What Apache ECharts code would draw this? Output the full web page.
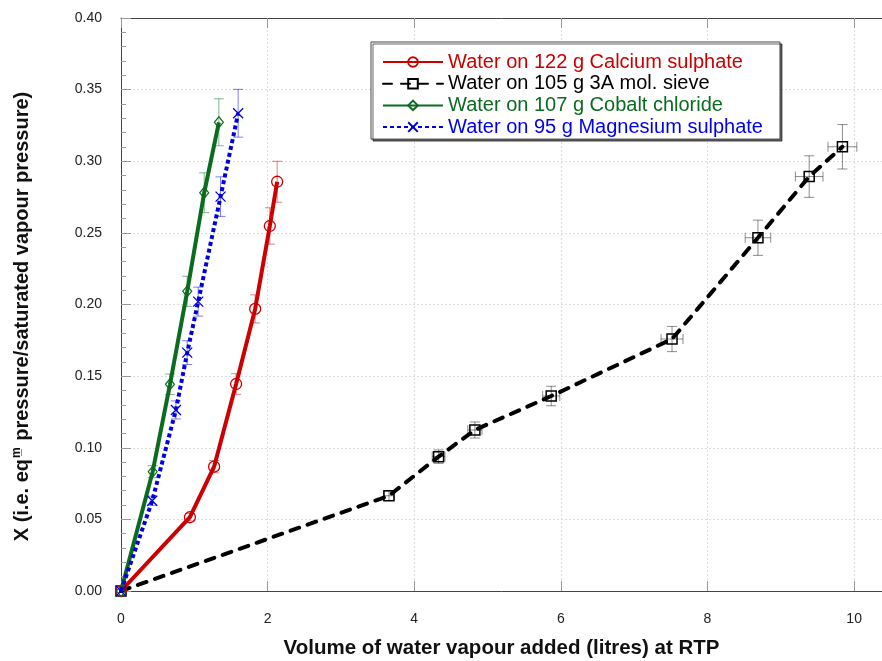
<!DOCTYPE html>
<html>
<head>
<meta charset="utf-8">
<script src="https://cdn.jsdelivr.net/npm/echarts@6/dist/echarts.min.js"></script>
<style>
  html, body { margin: 0; padding: 0; background: #fff; }
  #chart { width: 882px; height: 661px; }
</style>
</head>
<body>
<div id="chart"></div>
<script>
// values
const SERIES_NAMES = [
  'Water on 122 g Calcium sulphate',
  'Water on 105 g 3A mol. sieve',
  'Water on 107 g Cobalt chloride',
  'Water on 95 g Magnesium sulphate',
]

const casoX    = [0, 0.94, 1.27, 1.57, 1.83, 2.03, 2.13]
const casoY    = [0, 0.0515, 0.0868, 0.1445, 0.1969, 0.2548, 0.2857]
const casoErrY = [0, 0.0026, 0.0043, 0.0072, 0.0098, 0.0127, 0.0143]

const sieveX    = [0, 3.655, 4.332, 4.827, 5.868, 7.516, 8.688, 9.387, 9.84]
const sieveY    = [0, 0.0665, 0.0938, 0.1124, 0.1361, 0.1759, 0.2466, 0.2893, 0.3101]
const sieveErrX = [0, 0.073, 0.087, 0.097, 0.117, 0.150, 0.174, 0.188, 0.197]
const sieveErrY = [0, 0.0033, 0.0047, 0.0056, 0.0068, 0.0088, 0.0123, 0.0145, 0.0155]

const cocl2X    = [0, 0.432, 0.668, 0.903, 1.135, 1.335]
const cocl2Y    = [0, 0.0833, 0.1443, 0.2092, 0.278, 0.3272]
const cocl2ErrY = [0, 0.0042, 0.0072, 0.0105, 0.0139, 0.0164]

const mgso4X    = [0, 0.426, 0.749, 0.903, 1.053, 1.358, 1.598]
const mgso4Y    = [0, 0.063, 0.1264, 0.1664, 0.202, 0.2753, 0.3335]
const mgso4ErrY = [0, 0.0032, 0.0063, 0.0083, 0.0101, 0.0138, 0.0167]

const X_TICKS = [0, 2, 4, 6, 8, 10]
const Y_TICKS = [0, 0.05, 0.10, 0.15, 0.20, 0.25, 0.30, 0.35, 0.40]

const RED = '#cc0000', BLACK = '#000000', GREEN = '#0b6b1f', BLUE = '#0000dd'
const FONT = '"Liberation Sans", Arial, Helvetica, sans-serif'

const zip = (xs, ys) => xs.map((x, i) => [x, ys[i]])

function errorBars(id, xs, ys, ex, ey, color) {
  return {
    type: 'custom', name: id, silent: true, z: 1,
    data: xs.map((x, i) => [x, ys[i], ex ? ex[i] : 0, ey[i]]),
    encode: { x: 0, y: 1 },
    renderItem: (params, api) => {
      const x = api.value(0), y = api.value(1), dx = api.value(2), dy = api.value(3)
      const c = api.coord([x, y])
      const cap = 5
      const style = { stroke: color, lineWidth: 1 }
      const seg = (x1, y1, x2, y2) => ({ type: 'line', shape: { x1, y1, x2, y2 }, style })
      const kids = []
      if (dy > 0) {
        const t = api.coord([x, y + dy])[1], b = api.coord([x, y - dy])[1]
        kids.push(seg(c[0], t, c[0], b), seg(c[0] - cap, t, c[0] + cap, t), seg(c[0] - cap, b, c[0] + cap, b))
      }
      if (dx > 0) {
        const l = api.coord([x - dx, y])[0], r = api.coord([x + dx, y])[0]
        kids.push(seg(l, c[1], r, c[1]), seg(l, c[1] - cap, l, c[1] + cap), seg(r, c[1] - cap, r, c[1] + cap))
      }
      return { type: 'group', children: kids }
    },
  }
}

const chart = echarts.init(document.getElementById('chart'), null, { renderer: 'canvas' })

chart.setOption({
  animation: false,
  backgroundColor: '#fff',
  grid: { left: 121, right: 0, top: 18, bottom: 70, containLabel: false, outerBoundsMode: 'none' },
  legend: {
    data: SERIES_NAMES.map((n, i) => ({ name: n, textStyle: { color: [RED, BLACK, GREEN, '#0000ee'][i] } })),
    orient: 'vertical', left: 371, top: 42,
    padding: [10, 17, 2, 11],
    itemWidth: 60, itemHeight: 12, itemGap: 1.7,
    backgroundColor: '#fff',
    borderColor: '#444', borderWidth: 1,
    shadowColor: 'rgba(0,0,0,0.6)', shadowOffsetX: 2, shadowOffsetY: 2, shadowBlur: 0,
    textStyle: { fontFamily: FONT, fontSize: 20, lineHeight: 20 },
    selectedMode: false,
  },
  xAxis: [
    {
      type: 'value', min: 0, max: 10.38, interval: 2,
      axisLine: { onZero: false, lineStyle: { color: '#444', width: 1 } },
      axisTick: { inside: true, length: 10, lineStyle: { color: '#999' } },
      axisLabel: {
        showMaxLabel: false, margin: 21, color: '#222', fontFamily: FONT, fontSize: 14,
        formatter: v => (X_TICKS.includes(v) ? String(v) : ''),
      },
      splitLine: { show: true, lineStyle: { color: '#dcdcdc', type: [2, 2] } },
      name: 'Volume of water vapour added (litres) at RTP',
      nameLocation: 'middle', nameGap: 47,
      nameTextStyle: { fontFamily: FONT, fontWeight: 'bold', fontSize: 20.5, color: '#111' },
    },
    {
      type: 'value', position: 'top', min: 0, max: 10.38, interval: 2,
      axisLine: { show: true, onZero: false, lineStyle: { color: '#444', width: 1 } },
      axisTick: { inside: true, length: 10, lineStyle: { color: '#999' } },
      axisLabel: { show: false },
      splitLine: { show: false },
    },
  ],
  yAxis: {
    type: 'value', min: 0, max: 0.40, interval: 0.05,
    axisLine: { show: true, onZero: false, lineStyle: { color: '#444', width: 1 } },
    axisTick: { inside: true, length: 10, lineStyle: { color: '#999' } },
    minorTick: { show: true, splitNumber: 5, length: 5, lineStyle: { color: '#999' } },
    axisLabel: {
      margin: 19, color: '#222', fontFamily: FONT, fontSize: 14,
      formatter: v => {
        const t = Y_TICKS.find(k => Math.abs(k - v) < 1e-9)
        return t === undefined ? '' : t.toFixed(2)
      },
    },
    splitLine: { show: true, lineStyle: { color: '#dcdcdc', type: [2, 2] } },
    name: '{n|X (i.e. eq}{s|m\u0332}{n| pressure/saturated vapour pressure)}',
    nameLocation: 'middle', nameGap: 87,
    nameTextStyle: {
      fontFamily: FONT, fontWeight: 'bold', fontSize: 20, color: '#111',
      padding: [0, 24, 0, 0],
      rich: {
        n: { fontFamily: FONT, fontWeight: 'bold', fontSize: 20, color: '#111', lineHeight: 24 },
        s: { fontFamily: FONT, fontWeight: 'bold', fontSize: 12, color: '#111', lineHeight: 24, padding: [0, 1, 10, 1] },
      },
    },
  },
  series: [
    errorBars('err-sieve', sieveX, sieveY, sieveErrX, sieveErrY, 'rgba(0,0,0,0.45)'),
    errorBars('err-caso', casoX, casoY, null, casoErrY, 'rgba(204,0,0,0.5)'),
    errorBars('err-cocl2', cocl2X, cocl2Y, null, cocl2ErrY, 'rgba(11,107,31,0.5)'),
    errorBars('err-mgso4', mgso4X, mgso4Y, null, mgso4ErrY, 'rgba(0,0,221,0.5)'),
    {
      name: SERIES_NAMES[1], type: 'line', data: zip(sieveX, sieveY), z: 2,
      symbol: 'rect', symbolSize: 10,
      itemStyle: { color: 'rgba(255,255,255,0)', borderColor: BLACK, borderWidth: 1.5 },
      lineStyle: { color: BLACK, width: 4, type: [9, 9], cap: 'round' },
    },
    {
      name: SERIES_NAMES[0], type: 'line', data: zip(casoX, casoY), z: 3,
      symbol: 'circle', symbolSize: 11,
      itemStyle: { color: 'rgba(255,255,255,0)', borderColor: RED, borderWidth: 1.3 },
      lineStyle: { color: RED, width: 4 },
    },
    {
      name: SERIES_NAMES[2], type: 'line', data: zip(cocl2X, cocl2Y), z: 3,
      symbol: 'diamond', symbolSize: [9, 11],
      itemStyle: { color: 'rgba(255,255,255,0)', borderColor: GREEN, borderWidth: 1.2 },
      lineStyle: { color: GREEN, width: 4 },
    },
    {
      name: SERIES_NAMES[3], type: 'line', data: zip(mgso4X, mgso4Y), z: 4,
      symbol: 'path://M0,0L10,10M10,0L0,10', symbolSize: 10,
      itemStyle: { color: 'rgba(255,255,255,0)', borderColor: BLUE, borderWidth: 1.3 },
      lineStyle: { color: BLUE, width: 4, type: [4, 3] },
    },
  ],
})

window.addEventListener('resize', () => chart.resize())
</script>
</body>
</html>
